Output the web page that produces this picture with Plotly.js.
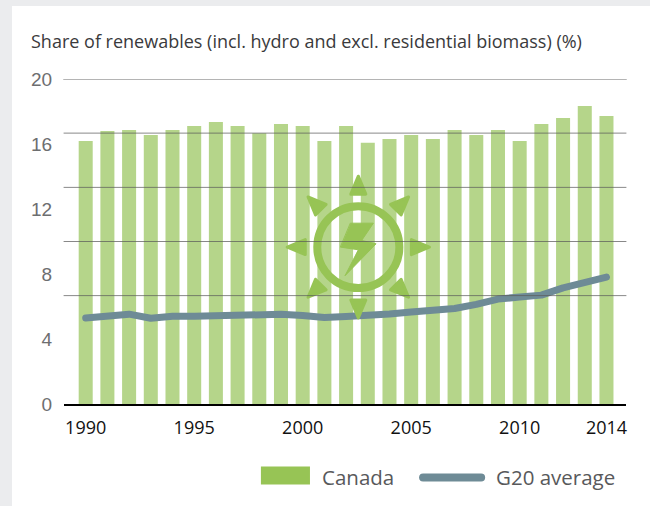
<!DOCTYPE html>
<html><head><meta charset="utf-8">
<script src="https://cdn.plot.ly/plotly-3.0.1.min.js"></script>
<style>
html,body{margin:0;padding:0;background:#ebecee;width:650px;height:506px;overflow:hidden}
#panel{position:absolute;left:12px;top:6px;width:638px;height:500px;background:#fff}
#chart{position:absolute;left:0;top:0;width:650px;height:506px}
.js-line{stroke-linecap:round;stroke-linejoin:round}
.shapelayer path{stroke-linejoin:round;stroke-linecap:round}
</style></head><body>
<div id="panel"></div><div id="chart"></div>
<script>
const years = [1990,1991,1992,1993,1994,1995,1996,1997,1998,1999,2000,2001,2002,2003,2004,2005,2006,2007,2008,2009,2010,2011,2012,2013,2014];
const canada = [16.19,16.80,16.86,16.56,16.86,17.11,17.36,17.11,16.66,17.23,17.11,16.19,17.11,16.07,16.31,16.56,16.31,16.86,16.56,16.86,16.19,17.23,17.60,18.34,17.73];
const g20 = [5.29,5.41,5.53,5.28,5.40,5.40,5.42,5.50,5.52,5.52,5.44,5.32,5.38,5.41,5.54,5.66,5.78,5.88,6.13,6.46,6.58,6.70,7.15,7.50,7.81];
const xTicks = [1990,1995,2000,2005,2010,2014];
const yTicks = [0,4,8,12,16,20];
const gridLevels = [16.67,13.33,10,6.67];

const L=64.3,R=625.7,T=79,B=404.4;
const px=x=>(x-L)/(R-L), py=y=>(B-y)/(B-T);
const GREEN='#97c455', BAR='#b5d58a', SLATE='#6e8b96';
const shapes=[];
// icon (zoom coordinates scaled to page pixels)
const cx=358.3, cy=247.3;
const poly=pts=>'M'+pts.map(p=>px(p[0]).toFixed(5)+','+py(p[1]).toFixed(5)).join(' L')+' Z';
for(let k=0;k<8;k++){
  const a=k*Math.PI/4, rot=(dx,dy)=>[cx+dx*Math.cos(a)-dy*Math.sin(a), cy+dx*Math.sin(a)+dy*Math.cos(a)];
  shapes.push({type:'path',xref:'paper',yref:'paper',layer:'above',path:poly([rot(0,-71),rot(7.5,-53),rot(-7.5,-53)]),fillcolor:GREEN,line:{color:GREEN,width:3}});
}
shapes.push({type:'circle',xref:'paper',yref:'paper',layer:'above',x0:px(cx-41),x1:px(cx+41),y0:py(cy+41),y1:py(cy-41),line:{color:GREEN,width:8},fillcolor:'rgba(0,0,0,0)'});
const bz=[[212,160],[280,160],[245,212],[288,222],[195,318],[235,240],[182,232]].map(p=>[280+p[0]/3,170+p[1]/3]);
shapes.push({type:'path',xref:'paper',yref:'paper',layer:'above',path:poly(bz),fillcolor:GREEN,line:{color:GREEN,width:1}});
// gridlines above the bars
shapes.push({type:'line',xref:'paper',yref:'y',layer:'above',x0:0,x1:1,y0:20,y1:20,line:{color:'#b4b4b4',width:2}});
gridLevels.forEach(v=>shapes.push({type:'line',xref:'paper',yref:'y',layer:'above',x0:0,x1:1,y0:v,y1:v,line:{color:'rgba(90,90,90,0.72)',width:1}}));
// legend swatches
shapes.push({type:'rect',xref:'paper',yref:'paper',layer:'above',x0:px(261),x1:px(310),y0:py(485),y1:py(467),fillcolor:GREEN,line:{width:0}});
shapes.push({type:'line',xref:'paper',yref:'paper',layer:'above',x0:px(423),x1:px(481),y0:py(478),y1:py(478),line:{color:SLATE,width:8}});

const legendFont={family:'Open Sans',size:20.5,color:'#58595b'};
const annotations=[
 {xref:'paper',yref:'paper',x:px(320),y:py(477.5),text:'Canada',showarrow:false,xanchor:'left',yanchor:'middle',font:legendFont},
 {xref:'paper',yref:'paper',x:px(494),y:py(477.5),text:'G20 average',showarrow:false,xanchor:'left',yanchor:'middle',font:legendFont}
];

Plotly.newPlot('chart',[
 {type:'bar',x:years,y:canada,name:'Canada',marker:{color:BAR,line:{width:0}}},
 {type:'scatter',mode:'lines',x:years,y:g20,name:'G20 average',line:{color:SLATE,width:7},cliponaxis:false}
],{
 width:650,height:506,showlegend:false,bargap:0.354,
 paper_bgcolor:'rgba(0,0,0,0)',plot_bgcolor:'rgba(0,0,0,0)',
 margin:{l:L,r:650-R,t:T,b:506-B,pad:0,autoexpand:false},
 title:{text:'Share of renewables (incl. hydro and excl. residential biomass) (%)',x:31/650,xanchor:'left',y:1-42/506,yanchor:'middle',font:{family:'Open Sans',size:18,color:'#3a3a3c'}},
 xaxis:{range:[1989,2014.9],tickmode:'array',tickvals:xTicks,ticktext:xTicks.map(String),showgrid:false,zeroline:false,showline:true,linecolor:'#000',linewidth:2,ticks:'outside',ticklen:6,tickcolor:'rgba(0,0,0,0)',tickfont:{family:'Open Sans',size:18,color:'#111111'},automargin:false,fixedrange:true},
 yaxis:{range:[0,20],tickmode:'array',tickvals:yTicks,ticktext:yTicks.map(String),showgrid:false,zeroline:false,showline:false,ticks:'outside',ticklen:7,tickcolor:'rgba(0,0,0,0)',tickfont:{family:'Liberation Sans',size:19,color:'#6d6e70'},automargin:false,fixedrange:true},
 shapes,annotations
},{displayModeBar:false,staticPlot:true});
</script></body></html>
